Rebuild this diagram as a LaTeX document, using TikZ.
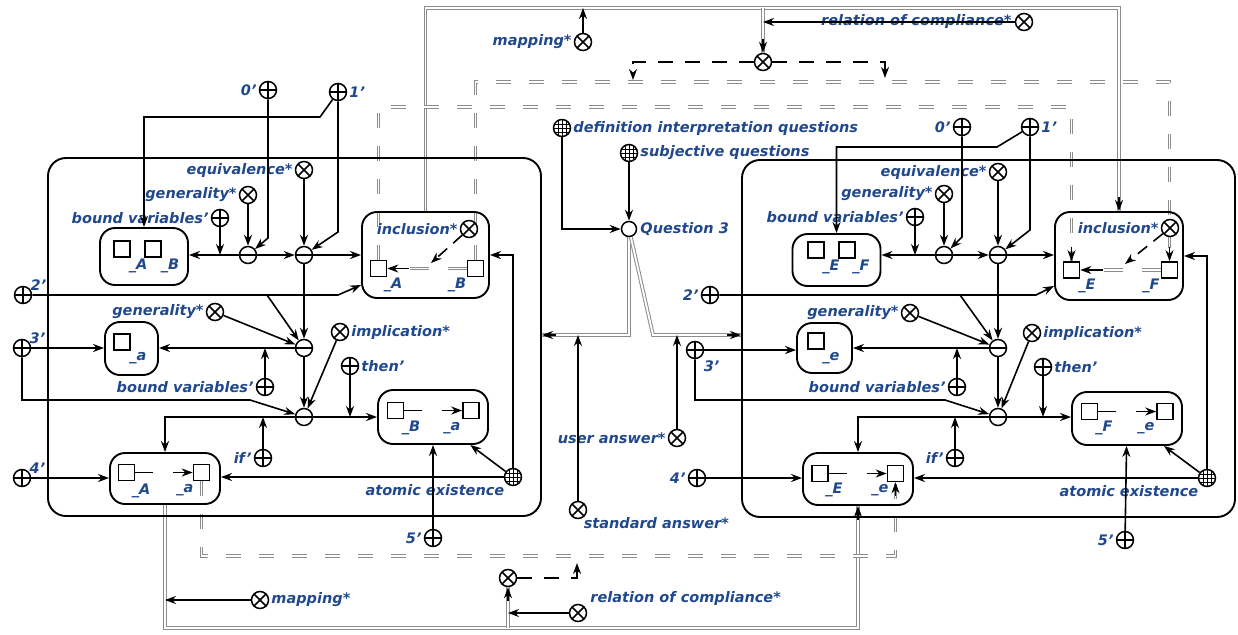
\documentclass[tikz,border=0pt]{standalone}
\usepackage{fontspec}
\setmainfont{DejaVu Sans}
\usepackage{tikz}
\usetikzlibrary{arrows.meta, positioning, backgrounds}

\definecolor{labelblue}{RGB}{32,72,140}
\definecolor{linkgray}{RGB}{140,140,140}

\tikzstyle{lbl} = [font=\fontsize{14.5}{17}\selectfont\bfseries\itshape, text=labelblue, inner sep=1pt]
\tikzstyle{opbase} = [circle, draw, fill=white, line width=1.5pt, minimum size=17pt, inner sep=0pt]
\tikzstyle{opx} = [opbase, path picture={\draw[line width=1.5pt] (path picture bounding box.north west) -- (path picture bounding box.south east) (path picture bounding box.north east) -- (path picture bounding box.south west);}]
\tikzstyle{opp} = [opbase, path picture={\draw[line width=1.5pt] (path picture bounding box.north) -- (path picture bounding box.south) (path picture bounding box.west) -- (path picture bounding box.east);}]
\tikzstyle{opm} = [opbase, path picture={\draw[line width=1.5pt] (path picture bounding box.west) -- (path picture bounding box.east);}]
\tikzstyle{opg} = [opbase, path picture={\foreach \k in {-4,0,4} \draw[line width=0.9pt] ([xshift=\k pt]path picture bounding box.north) -- ([xshift=\k pt]path picture bounding box.south) ([yshift=\k pt]path picture bounding box.west) -- ([yshift=\k pt]path picture bounding box.east);}]
\tikzstyle{opq} = [circle, draw, fill=white, line width=1.5pt, minimum size=15pt, inner sep=0pt]
\tikzstyle{cell} = [rectangle, draw, line width=1.6pt, minimum size=16pt, inner sep=0pt]
\tikzstyle{grp} = [rectangle, draw, rounded corners=15pt, line width=1.9pt]
\tikzstyle{frm} = [rectangle, draw, rounded corners=18pt, line width=1.9pt]
\tikzstyle{arr} = [-{Stealth[length=11pt,width=8pt]}, line width=1.6pt]
\tikzstyle{dsh} = [dash pattern=on 15pt off 12pt]
\tikzstyle{dbl} = [draw=linkgray, double=white, double distance=1.8pt, line width=1pt]
\tikzstyle{dbld} = [dbl, dash pattern=on 15pt off 18pt]

\begin{document}
\begin{tikzpicture}[x=1pt, y=-1pt]
    \useasboundingbox (0,0) rectangle (1238,634);
    \coordinate (topk) at (0,8);
    \coordinate (botk) at (0,628);

    % Left block
    \node[frm, minimum width=493pt, minimum height=358pt] (blkL) at (294.5,337) {};
    \node[grp, minimum width=88pt, minimum height=57pt] (abL) at (144,256.5) {};
    \node[cell] (sqAL) at (122,249) {};
    \node[cell] (sqBL) at (153,249) {};
    \node[lbl] (tAL) at (138,266) {\_A};
    \node[lbl] (tBL) at (170,266) {\_B};
    \node[opx] (eqvL) at (304,170) {};
    \node[lbl, left=1pt of eqvL] (eqvLt) {equivalence*};
    \node[opx] (gen1L) at (248,195) {};
    \node[lbl, left=1pt of gen1L] (gen1Lt) {generality*};
    \node[opp] (bv1L) at (220,218) {};
    \node[lbl, left=1pt of bv1L] (bv1Lt) {bound variables'};
    \node[opm] (m1L) at (248,255) {};
    \node[opm] (m2L) at (304,255) {};
    \node[opp] (z0L) at (268,90) {};
    \node[lbl, left=1pt of z0L] (z0Lt) {0'};
    \node[opp] (o1L) at (338,92) {};
    \node[lbl, right=1pt of o1L] (o1Lt) {1'};

    \node[grp, minimum width=127pt, minimum height=86pt] (incL) at (425.5,255) {};
    \node[cell] (sqIAL) at (378.5,268.5) {};
    \node[cell] (sqIBL) at (475.5,268.5) {};
    \node[opx] (incxL) at (469,229) {};
    \node[lbl, left=1pt of incxL] (incxLt) {inclusion*};
    \node[lbl] (tIAL) at (393,285) {\_A};
    \node[lbl] (tIBL) at (457,285) {\_B};
    \coordinate (icaL) at (409,268.5);
    \coordinate (icbL) at (431,263);

    \node[opm] (m3L) at (304,348) {};
    \node[opm] (m4L) at (304,417) {};
    \node[opx] (gen2L) at (215,312) {};
    \node[lbl, left=1pt of gen2L] (gen2Lt) {generality*};
    \node[grp, minimum width=53pt, minimum height=53pt] (aL) at (131.5,348.5) {};
    \node[cell] (sqaL) at (122,342) {};
    \node[lbl] (taL) at (138,358) {\_a};
    \node[opp] (bv2L) at (265,387) {};
    \node[lbl, left=1pt of bv2L] (bv2Lt) {bound variables'};
    \node[opx] (impL) at (340,332) {};
    \node[lbl, right=1pt of impL] (impLt) {implication*};
    \node[opp] (thL) at (350,366) {};
    \node[lbl, right=1pt of thL] (thLt) {then'};
    \node[opp] (ifL) at (263,458) {};
    \node[lbl, left=1pt of ifL] (ifLt) {if'};

    \node[grp, minimum width=110pt, minimum height=54pt] (baL) at (433,417) {};
    \node[cell] (sqba1L) at (395.5,410.5) {};
    \node[cell] (sqba2L) at (471,410.5) {};
    \node[lbl] (tba1L) at (411,428) {\_B};
    \node[lbl] (tba2L) at (452,428) {\_a};

    \node[grp, minimum width=110pt, minimum height=51pt] (AaL) at (165,478.5) {};
    \node[cell] (sqAa1L) at (126.5,472.5) {};
    \node[cell] (sqAa2L) at (201.5,472.5) {};
    \node[lbl] (tAa1L) at (141,491) {\_A};
    \node[lbl] (tAa2L) at (185,490) {\_a};

    \node[opg] (aeL) at (513,477) {};
    \node[lbl, below left=0pt and 1pt of aeL] (aeLt) {atomic existence};
    \node[opp] (f5L) at (433,538) {};
    \node[lbl, left=1pt of f5L] (f5Lt) {5'};
    \node[opp] (f2L) at (23,295) {};
    \node[lbl, above right=-3pt and 0pt of f2L] (f2Lt) {2'};
    \node[opp] (f3L) at (22,348) {};
    \node[lbl, above right=-3pt and 0pt of f3L] (f3Lt) {3'};
    \node[opp] (f4L) at (22,478) {};
    \node[lbl, above right=-3pt and 0pt of f4L] (f4Lt) {4'};

    \draw[arr] (m1L) -- (m1L -| abL.east);
    \draw[arr] (bv1L) -- (bv1L |- m1L);
    \draw[arr] (gen1L) -- (m1L);
    \draw[arr] (z0L) -- ++(0,148) -- (m1L);
    \draw[arr] (m1L) -- (m2L);
    \draw[arr] (eqvL) -- (m2L);
    \draw[arr] (o1L) -- ++(0,140) -- (m2L);
    \draw[arr] (o1L) -- ++(-18,25) -| (abL.north);
    \draw[arr] (m2L) -- (incL);
    \draw[dbl, dash pattern=on 19pt off 19pt] (sqIBL) -- (icaL);
    \draw[arr] (icaL) -- (sqIAL);
    \draw[arr, dash pattern=on 12pt off 8pt] (incxL) -- (icbL);
    \draw[arr] (m2L) -- (m3L);
    \draw[arr] (f2L) -- ++(315,0) -- ([yshift=-30pt]incL.west);
    \draw[arr] (f2L) ++(244,0) -- (m3L);
    \draw[arr] (gen2L) -- (m3L);
    \draw[arr] (m3L) -- (m3L -| aL.east);
    \draw[arr] (bv2L) -- (bv2L |- m3L);
    \draw[arr] (f3L) -- (f3L -| aL.west);
    \draw[arr] (f3L) -- ++(0,52) -- ++(228,0) -- (m4L);
    \draw[arr] (m3L) -- (m4L);
    \draw[arr] (impL) -- (m4L);
    \draw[arr] (m4L) -- (m4L -| baL.west);
    \draw[arr] (thL) -- (thL |- m4L);
    \draw[arr] (ifL) -- (ifL |- m4L);
    \draw[arr] (m4L) -| (AaL.north);
    \draw[arr, dash pattern=on 18pt off 20pt] (sqba1L) -- (sqba2L);
    \draw[arr, dash pattern=on 18pt off 20pt] (sqAa1L) -- (sqAa2L);
    \draw[arr] (f4L) -- (f4L -| AaL.west);
    \draw[arr] (aeL) -- (aeL -| AaL.east);
    \draw[arr] (aeL) -- (baL);
    \draw[arr] (aeL) |- (incL.east);
    \draw[arr] (f5L) -- (baL);

    % Right block
    \begin{scope}[shift={(694,0)}]
        \node[frm, minimum width=493pt, minimum height=357pt] (blkR) at (294.5,338.5) {};
        \node[grp, minimum width=88pt, minimum height=52pt] (abR) at (142.5,260) {};
        \node[cell] (sqER) at (122,250) {};
        \node[cell] (sqFR) at (153,250) {};
        \node[lbl] (tER) at (137,267) {\_E};
        \node[lbl] (tFR) at (167,267) {\_F};
        \node[opx] (eqvR) at (304,172) {};
        \node[lbl, left=1pt of eqvR] (eqvRt) {equivalence*};
        \node[opx] (gen1R) at (250,194) {};
        \node[lbl, left=1pt of gen1R] (gen1Rt) {generality*};
        \node[opp] (bv1R) at (221,217) {};
        \node[lbl, left=1pt of bv1R] (bv1Rt) {bound variables'};
        \node[opm] (m1R) at (250,255) {};
        \node[opm] (m2R) at (304,255) {};
        \node[opp] (z0R) at (268,127) {};
        \node[lbl, left=1pt of z0R] (z0Rt) {0'};
        \node[opp] (o1R) at (336,127) {};
        \node[lbl, right=1pt of o1R] (o1Rt) {1'};

        \node[grp, minimum width=128pt, minimum height=88pt] (incR) at (425,256) {};
        \node[cell] (sqIER) at (377.5,270) {};
        \node[cell] (sqIFR) at (475.5,270) {};
        \node[opx] (incxR) at (476,228) {};
        \node[lbl, left=1pt of incxR] (incxRt) {inclusion*};
        \node[lbl] (tIER) at (393,286) {\_E};
        \node[lbl] (tIFR) at (457,286) {\_F};
        \coordinate (icaR) at (409,270);
        \coordinate (icbR) at (431,264);

        \node[opm] (m3R) at (304,348) {};
        \node[opm] (m4R) at (304,417) {};
        \node[opx] (gen2R) at (216,313) {};
        \node[lbl, left=1pt of gen2R] (gen2Rt) {generality*};
        \node[grp, minimum width=55pt, minimum height=50pt] (eR) at (130.5,348) {};
        \node[cell] (sqeR) at (122,341) {};
        \node[lbl] (teR) at (137,358) {\_e};
        \node[opp] (bv2R) at (263,387) {};
        \node[lbl, left=1pt of bv2R] (bv2Rt) {bound variables'};
        \node[opx] (impR) at (338,333) {};
        \node[lbl, right=1pt of impR] (impRt) {implication*};
        \node[opp] (thR) at (349,367) {};
        \node[lbl, right=1pt of thR] (thRt) {then'};
        \node[opp] (ifR) at (261,458) {};
        \node[lbl, left=1pt of ifR] (ifRt) {if'};

        \node[grp, minimum width=110pt, minimum height=53pt] (FeR) at (433,418.5) {};
        \node[cell] (sqFe1R) at (395.5,411.5) {};
        \node[cell] (sqFe2R) at (471,411.5) {};
        \node[lbl] (tFe1R) at (410,428) {\_F};
        \node[lbl] (tFe2R) at (452,428) {\_e};

        \node[grp, minimum width=110pt, minimum height=52pt] (EeR) at (164,479) {};
        \node[cell] (sqEe1R) at (126,473.5) {};
        \node[cell] (sqEe2R) at (201.5,473.5) {};
        \node[lbl] (tEe1R) at (140,490) {\_E};
        \node[lbl] (tEe2R) at (186,490) {\_e};

        \node[opg] (aeR) at (513,478) {};
        \node[lbl, below left=0pt and 1pt of aeR] (aeRt) {atomic existence};
        \node[opp] (f5R) at (431,540) {};
        \node[lbl, left=1pt of f5R] (f5Rt) {5'};
    \end{scope}
    \node[opp] (f2R) at (710,295) {};
    \node[lbl, left=1pt of f2R] (f2Rt) {2'};
    \node[opp] (f3R) at (695,350) {};
    \node[lbl, below right=3pt and 1pt of f3R] (f3Rt) {3'};
    \node[opp] (f4R) at (697,478) {};
    \node[lbl, left=1pt of f4R] (f4Rt) {4'};

    \draw[arr] (m1R) -- (m1R -| abR.east);
    \draw[arr] (bv1R) -- (bv1R |- m1R);
    \draw[arr] (gen1R) -- (m1R);
    \draw[arr] (z0R) -- ++(0,110) -- (m1R);
    \draw[arr] (m1R) -- (m2R);
    \draw[arr] (eqvR) -- (m2R);
    \draw[arr] (o1R) -- ++(0,103) -- (m2R);
    \draw[arr] (o1R) -- ++(-33,20) -| (abR.north);
    \draw[arr] (m2R) -- (m2R -| incR.west);
    \draw[dbl, dash pattern=on 19pt off 19pt] (sqIFR) -- (icaR);
    \draw[arr] (icaR) -- (sqIER);
    \draw[arr, dash pattern=on 12pt off 8pt] (incxR) -- (icbR);
    \draw[arr] (m2R) -- (m3R);
    \draw[arr] (f2R) -- ++(326,0) -- ([yshift=-30pt]incR.west);
    \draw[arr] (f2R) ++(250,0) -- (m3R);
    \draw[arr] (gen2R) -- (m3R);
    \draw[arr] (m3R) -- (m3R -| eR.east);
    \draw[arr] (bv2R) -- (bv2R |- m3R);
    \draw[arr] (f3R) -- (f3R -| eR.west);
    \draw[arr] (f3R) -- ++(0,50) -- ++(250,0) -- (m4R);
    \draw[arr] (m3R) -- (m4R);
    \draw[arr] (impR) -- (m4R);
    \draw[arr] (m4R) -- (m4R -| FeR.west);
    \draw[arr] (thR) -- (thR |- m4R);
    \draw[arr] (ifR) -- (ifR |- m4R);
    \draw[arr] (m4R) -| (EeR.north);
    \draw[arr, dash pattern=on 18pt off 20pt] (sqFe1R) -- (sqFe2R);
    \draw[arr, dash pattern=on 18pt off 20pt] (sqEe1R) -- (sqEe2R);
    \draw[arr] (f4R) -- (f4R -| EeR.west);
    \draw[arr] (aeR) -- (aeR -| EeR.east);
    \draw[arr] (aeR) -- (FeR);
    \draw[arr] (aeR) |- (incR.east);
    \draw[arr] (f5R) -- (FeR);

    % Question 3
    \node[opg] (diq) at (562,128) {};
    \node[lbl, right=1pt of diq] (diqt) {definition interpretation questions};
    \node[opg] (sjq) at (629,153) {};
    \node[lbl, right=1pt of sjq] (sjqt) {subjective questions};
    \node[opq] (q3) at (629,229) {};
    \node[lbl, right=2pt of q3] (q3t) {Question 3};
    \draw[arr] (diq) |- (q3);
    \draw[arr] (sjq) -- (q3);
    \coordinate (qL) at (629,335);
    \coordinate (qR) at (653,335);
    \node[opx] (ua) at (677,438) {};
    \node[lbl, left=1pt of ua] (uat) {user answer*};
    \node[opx] (sa) at (578,510) {};
    \node[lbl, below right=0pt and -2pt of sa] (sat) {standard answer*};
    \draw[arr] (ua) -- (ua |- qR);
    \draw[arr] (sa) -- (sa |- qL);

    % Top links
    \node[opx] (mpT) at (583,42) {};
    \node[lbl, left=1pt of mpT] (mpTt) {mapping*};
    \node[opx] (ctT) at (763,62) {};
    \node[opx] (rcT) at (1024,22) {};
    \node[lbl, left=2pt of rcT] (rcTt) {relation of compliance*};
    \draw[arr] (mpT) -- (mpT |- topk);
    \draw[arr] (rcT) -- (rcT -| ctT);
    \draw[arr, dsh] (ctT) -| ++(-130,18);
    \draw[arr, dsh] (ctT) -| ++(122,16);

    % Bottom links
    \node[opx] (mpB) at (260,600) {};
    \node[lbl, right=1pt of mpB] (mpBt) {mapping*};
    \node[opx] (ctB) at (508,578) {};
    \node[opx] (rcB) at (578,613) {};
    \node[lbl, right=2pt of rcB, yshift=15pt] (rcBt) {relation of compliance*};
    \draw[arr] (mpB) -- (mpB -| AaL.south);
    \draw[arr] (rcB) -- (rcB -| ctB);
    \draw[arr, dsh] (ctB) -| ++(69,-15);

    % Gray links
    \begin{scope}[on background layer]
        \draw[dbl] (incL.north) -- (incL.north |- topk) -| (incR.north);
        \draw[arr] (incR.north) ++(0,-14) -- (incR.north);
        \draw[dbl] (AaL.south) -- (AaL.south |- botk) -| (EeR.south);
        \draw[arr] (EeR.south) ++(0,14) -- (EeR.south);
        \draw[dbld] (sqIAL.north) -- ++(0,-153) -| (sqIER.north);
        \draw[arr] (sqIER.north) ++(0,-14) -- (sqIER.north);
        \draw[dbld] (sqIBL.north) -- ++(0,-178) -| (sqIFR.north);
        \draw[arr] (sqIFR.north) ++(0,-14) -- (sqIFR.north);
        \draw[dbld] (sqAa2L.south) -- ++(0,74.5) -| (sqEe2R.south);
        \draw[arr] (sqEe2R.south) ++(0,14) -- (sqEe2R.south);
        \draw[dbl] (ctT |- topk) -- (ctT);
        \draw[arr] (ctT.north) ++(0,-14) -- (ctT.north);
        \draw[dbl] (ctB |- botk) -- (ctB);
        \draw[arr] (ctB.south) ++(0,14) -- (ctB.south);
        \draw[dbl] (q3) -- (qL) -- (qL -| blkL.east);
        \draw[arr] (qL -| blkL.east) ++(14,0) -- (qL -| blkL.east);
        \draw[dbl] (q3) -- (qR) -- (qR -| blkR.west);
        \draw[arr] (qR -| blkR.west) ++(-14,0) -- (qR -| blkR.west);
    \end{scope}
\end{tikzpicture}
\end{document}
